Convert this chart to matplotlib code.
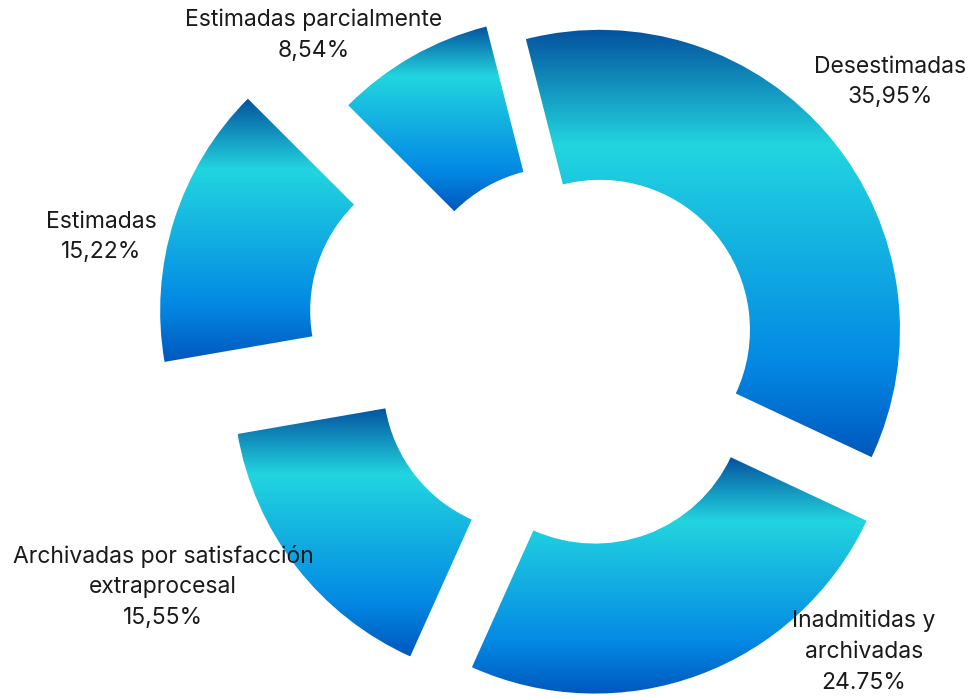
import numpy as np
import matplotlib
matplotlib.use('Agg')
import matplotlib.pyplot as plt
from matplotlib.colors import LinearSegmentedColormap

categories = ['Desestimadas', 'Inadmitidas y\narchivadas',
              'Archivadas por satisfacción\nextraprocesal', 'Estimadas',
              'Estimadas parcialmente']
values = [35.95, 24.75, 15.55, 15.22, 8.54]
value_labels = ['35,95%', '24.75%', '15,55%', '15,22%', '8,54%']
explode = [0.095, 0.162, 0.189, 0.412, 0.118]
label_pos_px = [(890, 82), (864, 652), (163, 587), (101, 237), (314, 35)]

W, H = 972, 697
cx, cy, R = 578, 348, 300

fig = plt.figure(figsize=(W / 100, H / 100), dpi=100)
ax = fig.add_axes([0, 0, 1, 1])

wedges, _ = ax.pie(values, explode=explode, startangle=104.3, counterclock=False,
                   radius=1,
                   wedgeprops=dict(width=0.5, facecolor='none', edgecolor='none'))

cmap = LinearSegmentedColormap.from_list(
    'grad', [(0.0, '#04529e'), (0.27, '#22d5df'), (0.78, '#0389e4'), (1.0, '#0058be')])
grad = np.linspace(0, 1, 512).reshape(-1, 1)

for w in wedges:
    path = w.get_patch_transform().transform_path(w.get_path())
    ext = path.get_extents()
    im = ax.imshow(grad, extent=(ext.x0, ext.x1, ext.y0, ext.y1), origin='upper',
                   cmap=cmap, aspect='auto', interpolation='bilinear', zorder=1)
    im.set_clip_path(w)

for cat, val, (px, py) in zip(categories, value_labels, label_pos_px):
    ax.text((px - cx) / R, (cy - py) / R, f'{cat}\n{val}', ha='center', va='center',
            fontsize=16.5, family='Inter', color='#1a1a1a', linespacing=1.52)

ax.set_xlim(-cx / R, (W - cx) / R)
ax.set_ylim((cy - H) / R, cy / R)
ax.set_aspect('equal')
ax.axis('off')

fig.savefig('out.png', dpi=100, facecolor='white')
